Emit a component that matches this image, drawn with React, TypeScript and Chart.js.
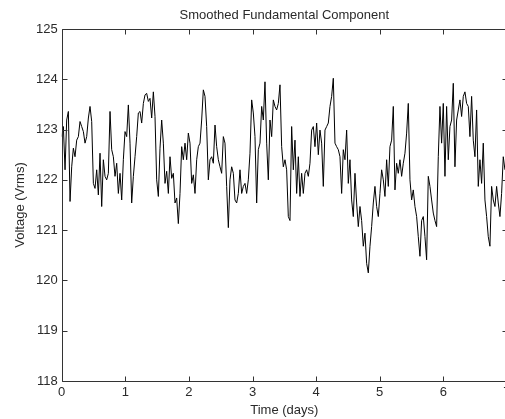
import React, { useEffect, useRef } from "react";
import { Chart, registerables } from "chart.js";

Chart.register(...registerables);

const TITLE = "Smoothed Fundamental Component";
const X_LABEL = "Time (days)";
const Y_LABEL = "Voltage (Vrms)";
const X_TICKS = [0, 1, 2, 3, 4, 5, 6, 7];
const Y_TICKS = [118, 119, 120, 121, 122, 123, 124, 125];
const X_MIN = 0;
const X_MAX = 7;
const Y_MIN = 118;
const Y_MAX = 125;
const SAMPLE_STEP_DAYS = 0.0262;

// roughly days 0 – 2.17
const voltageSeg1 = [
  122.86, 123.06, 122.2, 123.19, 123.36, 121.57, 122.26, 122.63, 122.46, 122.79,
  122.86, 123.16, 123.06, 122.96, 122.73, 122.86, 123.23, 123.46, 123.16, 121.93,
  121.83, 122.2, 121.7, 122.53, 121.47, 122.4, 122.07, 122.0, 122.13, 123.36,
  122.6, 122.46, 122.07, 122.33, 121.73, 122.13, 121.6, 122.4, 122.96, 122.86,
  123.49, 122.73, 121.54, 122.07, 122.46, 122.86, 123.33, 123.36, 123.13, 123.52,
  123.69, 123.72, 123.56, 123.62, 123.23, 123.75, 123.26, 122.0, 121.67, 122.63,
  123.19, 122.73, 121.93, 122.17, 121.73, 122.46, 122.03, 122.13, 121.54, 121.64,
  121.13, 121.73, 122.66, 122.4, 122.73, 122.4, 122.93, 122.73, 121.93, 122.1,
  121.73, 122.4, 122.66,
];

// roughly days 2.17 – 4.37
const voltageSeg2 = [
  122.73, 123.19, 123.79, 123.66, 123.06, 122.0, 122.4, 122.46, 122.33, 123.09,
  122.66, 122.4, 122.26, 122.13, 122.86, 122.73, 121.87, 121.05, 122.0, 122.26,
  122.13, 121.6, 121.54, 121.73, 122.2, 121.73, 121.87, 121.93, 121.73, 122.0,
  122.53, 123.59, 123.33, 122.86, 121.54, 122.6, 122.73, 123.46, 123.19, 123.95,
  122.73, 122.0, 123.19, 122.86, 123.59, 123.46, 123.39, 123.52, 123.89, 122.66,
  122.26, 122.4, 122.2, 121.27, 121.19, 123.06, 122.2, 122.79, 121.73, 122.46,
  121.67, 122.13, 121.73, 122.13, 122.2, 122.07, 122.33, 122.99, 123.06, 122.66,
  123.13, 122.5, 122.99, 122.73, 121.87, 122.99, 123.06, 123.13, 123.46, 123.66,
  124.02, 122.73, 122.66, 122.6,
];

// roughly days 4.37 – 6.97
const voltageSeg3 = [
  122.46, 121.73, 122.6, 122.4, 122.99, 121.93, 122.4, 121.6, 121.27, 122.13,
  121.54, 121.07, 121.47, 121.19, 120.68, 120.94, 120.34, 120.15, 120.68, 121.07,
  121.54, 121.87, 121.47, 121.27, 121.73, 122.2, 122.0, 121.67, 122.4, 121.87,
  122.66, 122.79, 123.46, 121.8, 122.33, 122.13, 122.4, 122.07, 122.33, 122.53,
  122.93, 123.52, 122.0, 121.6, 121.8, 121.47, 121.27, 120.87, 120.48, 121.19,
  121.27, 120.87, 120.41, 122.07, 121.87, 121.6, 121.34, 121.19, 121.07, 122.46,
  123.46, 122.73, 123.52, 122.07, 123.46, 122.4, 123.06, 123.19, 123.92, 122.26,
  123.19, 123.39, 123.59, 123.26, 123.66, 123.75, 123.52, 123.46, 122.86, 123.66,
  122.79, 122.46, 123.39, 121.87, 122.4, 121.93, 122.73, 121.6, 121.27, 120.87,
  120.68, 121.87, 121.6, 121.47, 121.87, 121.54, 121.27, 121.73, 122.46, 122.2,
];

const AXIS_COLOR = "#333333";
const TEXT_COLOR = "#2a2a2a";
const FONT_FAMILY = "'Liberation Sans', Arial, Helvetica, sans-serif";

const boxPlugin = {
  id: "matlabBox",
  afterDraw(chart: any) {
    const { ctx, chartArea: a, scales } = chart;
    const xs = scales.x;
    const ys = scales.y;
    const L = Math.round(a.left) + 0.5;
    const R = Math.round(a.right) + 0.5;
    const T = Math.round(a.top) + 0.5;
    const B = Math.round(a.bottom) + 0.5;
    const len = 5;
    ctx.save();
    ctx.strokeStyle = AXIS_COLOR;
    ctx.lineWidth = 1;
    ctx.beginPath();
    ctx.rect(L, T, R - L, B - T);
    X_TICKS.forEach((v) => {
      const px = Math.round(xs.getPixelForValue(v)) + 0.5;
      ctx.moveTo(px, B);
      ctx.lineTo(px, B - len);
      ctx.moveTo(px, T);
      ctx.lineTo(px, T + len);
    });
    Y_TICKS.forEach((v) => {
      const py = Math.round(ys.getPixelForValue(v)) + 0.5;
      ctx.moveTo(L, py);
      ctx.lineTo(L + len, py);
      ctx.moveTo(R, py);
      ctx.lineTo(R - len, py);
    });
    ctx.stroke();
    ctx.restore();
  },
};

export default function App() {
  const canvasRef = useRef<HTMLCanvasElement | null>(null);

  useEffect(() => {
    if (!canvasRef.current) return;
    const values = [...voltageSeg1, ...voltageSeg2, ...voltageSeg3];
    const points = values.map((v, i) => ({ x: i * SAMPLE_STEP_DAYS, y: v }));

    const chart = new Chart(canvasRef.current, {
      type: "line",
      data: {
        datasets: [
          {
            data: points,
            borderColor: "#000000",
            borderWidth: 1,
            pointRadius: 0,
            tension: 0,
            fill: false,
          },
        ],
      },
      options: {
        animation: false,
        responsive: false,
        maintainAspectRatio: false,
        layout: { padding: { left: 0, right: 9.1, top: 0, bottom: 0 } },
        font: { family: FONT_FAMILY },
        plugins: {
          legend: { display: false },
          tooltip: { enabled: false },
          title: {
            display: true,
            text: TITLE,
            fullSize: false,
            color: TEXT_COLOR,
            font: { family: FONT_FAMILY, size: 13, weight: "normal" },
            padding: { top: 7.2, bottom: 6.2 },
          },
        },
        scales: {
          x: {
            type: "linear",
            min: X_MIN,
            max: X_MAX,
            grid: { display: false, drawTicks: false, tickLength: 0 },
            border: { display: false },
            ticks: {
              stepSize: 1,
              autoSkip: false,
              maxRotation: 0,
              padding: 4,
              color: TEXT_COLOR,
              font: { family: FONT_FAMILY, size: 13 },
            },
            title: {
              display: true,
              text: X_LABEL,
              color: TEXT_COLOR,
              font: { family: FONT_FAMILY, size: 13 },
              padding: { top: 0, bottom: 0.5 },
            },
            afterFit: (s: any) => {
              s.height = 38;
            },
          },
          y: {
            type: "linear",
            min: Y_MIN,
            max: Y_MAX,
            grid: { display: false, drawTicks: false, tickLength: 0 },
            border: { display: false },
            ticks: {
              stepSize: 1,
              padding: 4,
              color: TEXT_COLOR,
              font: { family: FONT_FAMILY, size: 13 },
            },
            title: {
              display: true,
              text: Y_LABEL,
              color: TEXT_COLOR,
              font: { family: FONT_FAMILY, size: 13 },
              padding: { top: 13, bottom: 0 },
            },
            afterFit: (s: any) => {
              s.width = 61.7;
            },
          },
        },
      },
      plugins: [boxPlugin],
    } as any);

    return () => chart.destroy();
  }, []);

  return (
    <div
      style={{
        position: "fixed",
        left: 0,
        top: 0,
        width: 505,
        height: 419,
        overflow: "hidden",
        background: "#ffffff",
      }}
    >
      <canvas
        ref={canvasRef}
        width={516}
        height={419}
        style={{ display: "block", width: 516, height: 419 }}
      />
    </div>
  );
}
